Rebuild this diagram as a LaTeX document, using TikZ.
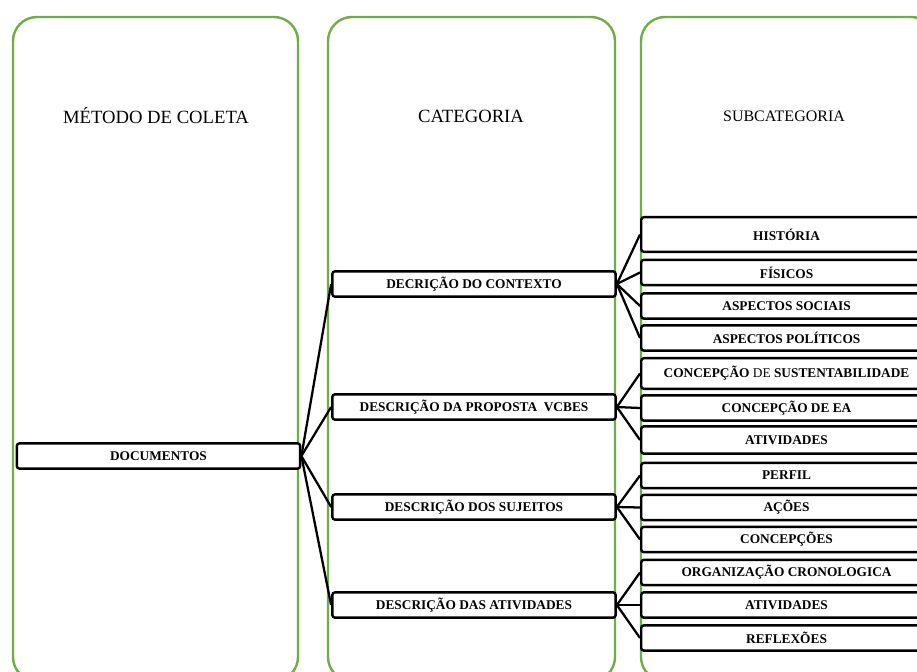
\documentclass[tikz,border=0pt]{standalone}
\usepackage{fontspec}
\setmainfont{Liberation Serif}
\definecolor{verde}{RGB}{112,173,71}
\tikzset{
	coluna/.style={draw=verde, line width=1.8pt, rounded corners=18pt},
	titulo/.style={font=\fontsize{14}{16}\selectfont},
	caixa/.style={draw, line width=1.8pt, rounded corners=2pt, fill=white, inner sep=0pt,
		font=\fontsize{10}{12}\selectfont\bfseries, minimum height=19pt},
	cat/.style={caixa, minimum width=212.5pt},
	sub/.style={caixa, anchor=west, minimum width=218pt},
	liga/.style={line width=1.7pt},
}

\begin{document}
\begin{tikzpicture}[x=0.75pt, y=-0.75pt]
			%%%%% START %%%%%
			\useasboundingbox (0, 0) rectangle (917, 671);
			\clip (0, 0) rectangle (917, 671);
			
			% colunas
			\draw[coluna] (13, 17) rectangle (298, 681);
			\draw[coluna] (328, 17) rectangle (615, 681);
			\draw[coluna] (641, 17) rectangle (935, 681);
			
			\node[titulo] (tmet) at (156, 116) {MÉTODO DE COLETA};
			\node[titulo] (tcat) at (471, 116) {CATEGORIA};
			\node[titulo, font=\fontsize{12}{14}\selectfont] (tsub) at (784, 116) {SUBCATEGORIA};
			
			% metodo
			\node[cat] (doc) at (158.5, 456) {DOCUMENTOS};
			
			% categorias
			\node[cat] (ctx) at (474, 284) {DECRIÇÃO DO CONTEXTO};
			\node[cat] (prop) at (474, 407) {DESCRIÇÃO DA PROPOSTA~ VCBES};
			\node[cat] (suj) at (474, 507) {DESCRIÇÃO DOS SUJEITOS};
			\node[cat] (ativ) at (474, 605) {DESCRIÇÃO DAS ATIVIDADES};
			
			% subcategorias
			\node[sub, minimum height=26pt] (hist) at (640, 234.5) {HISTÓRIA};
			\node[sub] (fis) at (640, 272.5) {FÍSICOS};
			\node[sub] (soc) at (640, 306) {ASPECTOS SOCIAIS};
			\node[sub] (pol) at (640, 338) {ASPECTOS POLÍTICOS};
			\node[sub, minimum height=23pt] (sust) at (640, 373.5) {CONCEPÇÃO \mdseries DE \bfseries SUSTENTABILIDADE};
			\node[sub] (ea) at (640, 408) {CONCEPÇÃO DE EA};
			\node[sub, minimum height=20.5pt] (ativa) at (640, 440) {ATIVIDADES};
			\node[sub] (perf) at (640, 475.5) {PERFIL};
			\node[sub] (acoes) at (640, 507.5) {AÇÕES};
			\node[sub] (concep) at (640, 539.5) {CONCEPÇÕES};
			\node[sub] (org) at (640, 572.5) {ORGANIZAÇÃO CRONOLOGICA};
			\node[sub] (ativb) at (640, 605) {ATIVIDADES};
			\node[sub] (refl) at (640, 638) {REFLEXÕES};
			
			% ligacoes
			\foreach \c in {ctx, prop, suj, ativ}
				\draw[liga] (doc.east) -- (\c.west);
			\foreach \s in {hist, fis, soc, pol}
				\draw[liga] (ctx.east) -- (\s.west);
			\foreach \s in {sust, ea, ativa}
				\draw[liga] (prop.east) -- (\s.west);
			\foreach \s in {perf, acoes, concep}
				\draw[liga] (suj.east) -- (\s.west);
			\foreach \s in {org, ativb, refl}
				\draw[liga] (ativ.east) -- (\s.west);
			
			%%%%% END %%%%%
\end{tikzpicture}
\end{document}
